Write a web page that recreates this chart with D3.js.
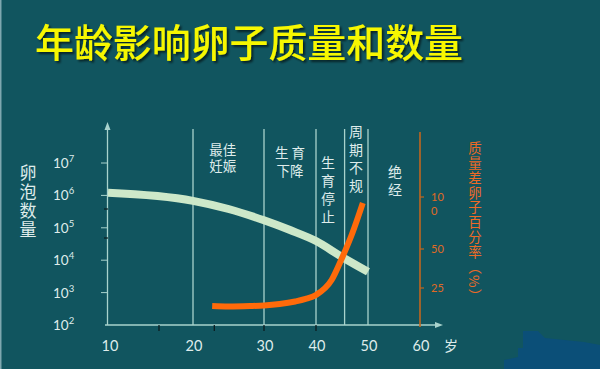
<!DOCTYPE html>
<html><head><meta charset="utf-8">
<script src="https://cdn.jsdelivr.net/npm/d3@7"></script>
<style>
html,body{margin:0;padding:0;background:#11555f;}
svg{display:block;font-family:"Noto Sans CJK SC","Noto Sans",sans-serif;}
</style></head>
<body><svg id="c" width="600" height="369"></svg>
<script>
// ---- data ----
const title = "年龄影响卵子质量和数量";
const xTickAges = [10, 20, 30, 40, 50, 60];
const xMinorAges = [16, 23, 30, 40];
const yExponents = [2, 3, 4, 5, 6, 7];
const rightTicks = [25, 50, 100];
const stageLineAges = [20, 30, 40, 45.5, 50];
const stageLabels = [
  {age: 24.2, lines: ["最佳", "妊娠"], vertical: false},
  {age: 35, lines: ["生 育", "下降"], vertical: false},
  {age: 42.3, lines: ["生育停止"], vertical: true},
  {age: 47.7, lines: ["周期不规"], vertical: true},
  {age: 55.2, lines: ["绝经"], vertical: true}
];
const follicleAges = [10, 20, 25, 30, 35, 40, 45, 50];
const follicleCounts = [1.2e6, 6.8e5, 3.8e5, 1.7e5, 8.5e4, 3.9e4, 1.26e4, 4400];
const poorAges = [22.7, 25, 28, 30, 33, 36, 38, 40, 43, 45, 47, 49];
const poorPct = [12.8, 12.5, 12.8, 13.2, 14.2, 15.9, 17.6, 20.3, 30.1, 44.2, 65.4, 94.2];
const yTitle = "卵泡数量";
const rightTitle = "质量差卵子百分率（%）";
const xUnit = "岁";

// ---- scales ----
const x = d3.scaleLinear().domain([10, 20, 30, 40, 50, 60]).range([108, 193, 264, 316, 368, 420]);
const y = d3.scaleLog().domain([1e2, 1e7]).range([325, 163]);
const yr = d3.scaleLinear().domain([0, 25, 50, 100]).range([325, 288, 249, 197]);

const svg = d3.select("#c");
const light = "#dfeceb";
const axisCol = "#a9d3cd";
const orange = "#ff6a0a";

// decorations
svg.append("rect").attr("width", 600).attr("height", 369).attr("fill", "#11555f");
svg.append("line").attr("x1", 0.75).attr("x2", 0.75).attr("y1", 0).attr("y2", 369).attr("stroke", "#7fa8b0").attr("stroke-width", 1.5);
svg.append("path").attr("d", "M523,331L538,331L545,338L584,342L600,345L600,369L504,369L504,360L518,357L518,348L523,348Z").attr("fill", "#0b4f78");

// title
const defs = svg.append("defs");
const f = defs.append("filter").attr("id", "sh").attr("x", "-5%").attr("y", "-20%").attr("width", "110%").attr("height", "150%");
f.append("feDropShadow").attr("dx", 2).attr("dy", 2).attr("stdDeviation", 1.2).attr("flood-color", "#000").attr("flood-opacity", 0.6);
svg.append("text").attr("x", 35).attr("y", 57).attr("font-size", 39).attr("font-weight", 500)
  .attr("fill", "#f7f700").attr("textLength", 428).attr("lengthAdjust", "spacingAndGlyphs")
  .attr("filter", "url(#sh)").text(title);

// stage lines
svg.selectAll(".stage").data(stageLineAges).join("line")
  .attr("x1", d => x(d)).attr("x2", d => x(d)).attr("y1", 129).attr("y2", 325)
  .attr("stroke", axisCol).attr("stroke-width", 1.3);

// stage labels
stageLabels.forEach(s => {
  if (!s.vertical) {
    const t = svg.append("text").attr("text-anchor", "middle").attr("font-size", 13.5).attr("fill", light);
    const late = s.age > 30;
    s.lines.forEach((line, i) => {
      t.append("tspan").attr("x", x(s.age)).attr("y", (late ? 158 : 155) + i * (late ? 18 : 15.5)).text(line);
    });
  } else {
    const y0 = s.age < 45 ? 156 : (s.age < 50 ? 125 : 165);
    svg.append("text").attr("x", x(s.age)).attr("y", y0)
      .style("writing-mode", "vertical-rl").attr("letter-spacing", 4)
      .attr("font-size", 14).attr("fill", light).text(s.lines[0]);
  }
});

// left axis
svg.append("line").attr("x1", 107.5).attr("x2", 107.5).attr("y1", 128).attr("y2", 325).attr("stroke", axisCol).attr("stroke-width", 1.3);
svg.append("path").attr("d", "M107.5,122L104.5,130L110.5,130Z").attr("fill", axisCol);
yExponents.forEach(e => {
  const yy = y(Math.pow(10, e));
  if (e > 2) svg.append("line").attr("x1", 101).attr("x2", 107).attr("y1", yy).attr("y2", yy).attr("stroke", axisCol).attr("stroke-width", 1);
  const t = svg.append("text").attr("x", 53).attr("y", yy + 5).attr("font-size", 13.5).attr("fill", light).attr("font-family", "Lato, 'Open Sans', sans-serif");
  t.append("tspan").text("10");
  t.append("tspan").attr("dy", -6).attr("font-size", 9.5).text(String(e));
});
[209, 238].forEach(yy => svg.append("line").attr("x1", 104).attr("x2", 108).attr("y1", yy).attr("y2", yy).attr("stroke", "#0b1d20").attr("stroke-width", 1.2));

// y title
svg.append("text").attr("x", 28).attr("y", 164).style("writing-mode", "vertical-rl")
  .attr("letter-spacing", 2).attr("font-size", 17).attr("fill", light).text(yTitle);

// x axis
svg.append("line").attr("x1", 105).attr("x2", 438).attr("y1", 325).attr("y2", 325).attr("stroke", axisCol).attr("stroke-width", 1.3);
svg.append("path").attr("d", "M443,325L435,322L435,328Z").attr("fill", axisCol);
xMinorAges.forEach(a => svg.append("line").attr("x1", x(a)).attr("x2", x(a)).attr("y1", 325).attr("y2", 331).attr("stroke", "#0b1d20").attr("stroke-width", 1.3));
xTickAges.forEach(a => {
  svg.append("text").attr("x", x(a) + (a === 10 ? 2 : 1)).attr("y", 351).attr("text-anchor", "middle")
    .attr("font-size", 14.5).attr("fill", light).attr("font-family", "Lato, 'Open Sans', sans-serif").text(a);
});
svg.append("text").attr("x", 451).attr("y", 351).attr("text-anchor", "middle").attr("font-size", 14).attr("fill", light).text(xUnit);

// right axis
svg.append("line").attr("x1", 420).attr("x2", 420).attr("y1", 132).attr("y2", 327).attr("stroke", "#c2661f").attr("stroke-width", 1.6);
rightTicks.forEach(v => {
  svg.append("line").attr("x1", 420).attr("x2", 424).attr("y1", yr(v)).attr("y2", yr(v)).attr("stroke", "#c2661f").attr("stroke-width", 1.2);
  const s = String(v);
  const t = svg.append("text").attr("font-size", 11).attr("fill", "#e06a24")
    .attr("font-family", "Lato, 'Open Sans', sans-serif");
  t.append("tspan").attr("x", 431).attr("y", yr(v) + 4).text(s.slice(0, 2));
  if (s.length > 2) t.append("tspan").attr("x", 431).attr("y", yr(v) + 18).text(s.slice(2));
});
svg.append("text").attr("x", 475).attr("y", 141).attr("font-size", 13.5).attr("fill", "#ee6a26")
  .style("writing-mode", "vertical-rl").attr("letter-spacing", 1.4).text(rightTitle);

// curves
const lineG = d3.line().x(d => x(d[0])).y(d => y(d[1])).curve(d3.curveMonotoneX);
svg.append("path").datum(follicleAges.map((a, i) => [a, follicleCounts[i]]))
  .attr("d", lineG).attr("fill", "none").attr("stroke", "#cde8c9").attr("stroke-width", 8);
const lineO = d3.line().x(d => x(d[0])).y(d => yr(d[1])).curve(d3.curveMonotoneX);
svg.append("path").datum(poorAges.map((a, i) => [a, poorPct[i]]))
  .attr("d", lineO).attr("fill", "none").attr("stroke", orange).attr("stroke-width", 6);
</script></body></html>
